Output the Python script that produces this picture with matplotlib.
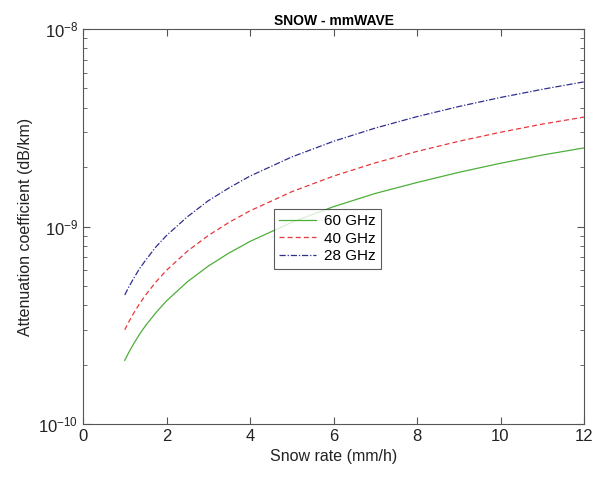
import numpy as np
import matplotlib.pyplot as plt
from matplotlib.ticker import LogLocator, FixedLocator, NullFormatter

plt.rcParams['font.family'] = ['Liberation Sans', 'DejaVu Sans']

# snow rate (mm/h) and attenuation coefficient (dB/km)
rate = np.array([1, 1.1, 1.2, 1.35, 1.5, 1.75, 2, 2.5, 3, 3.5, 4, 5, 6, 7, 8, 9, 10, 11, 12])
att_60 = np.array([0.21, 0.231, 0.252, 0.284, 0.315, 0.367, 0.42, 0.525, 0.63, 0.735, 0.84,
                   1.05, 1.26, 1.47, 1.67, 1.88, 2.09, 2.3, 2.5]) * 1e-9
att_40 = np.array([0.30, 0.33, 0.36, 0.405, 0.45, 0.525, 0.60, 0.75, 0.90, 1.05, 1.20,
                   1.50, 1.80, 2.10, 2.40, 2.70, 3.00, 3.30, 3.58]) * 1e-9
att_28 = np.array([0.45, 0.495, 0.54, 0.61, 0.675, 0.79, 0.90, 1.12, 1.35, 1.57, 1.80,
                   2.25, 2.70, 3.15, 3.60, 4.05, 4.50, 4.95, 5.40]) * 1e-9

fig = plt.figure(figsize=(6.1, 4.79), dpi=100)
ax = fig.add_axes([83/610, 55/479, 501/610, 395/479])

ax.plot(rate, att_60, color='#4daf3a', lw=0.9, label='60 GHz')
ax.plot(rate, att_40, color='#e8373a', lw=0.9, ls=(0, (4, 2.5)), label='40 GHz')
ax.plot(rate, att_28, color='#2f2f90', lw=0.9, ls=(0, (5, 1.5, 1, 1.5)), label='28 GHz')

ax.set_yscale('log')
ax.set_xlim(0, 12)
ax.set_ylim(1e-10, 1e-8)
ax.xaxis.set_major_locator(FixedLocator([0, 2, 4, 6, 8, 10, 12]))
ax.yaxis.set_major_locator(LogLocator(base=10, numticks=5))
ax.yaxis.set_minor_locator(LogLocator(base=10, subs=np.arange(2, 10), numticks=20))
ax.yaxis.set_minor_formatter(NullFormatter())

for s in ax.spines.values():
    s.set_color('#555555')
    s.set_linewidth(0.8)
ax.tick_params(which='both', direction='in', top=True, right=True, colors='#555555', labelcolor='#222222')
ax.tick_params(which='major', length=5, labelsize=12)
ax.tick_params(which='minor', length=3)

ax.set_xlabel('Snow rate (mm/h)', fontsize=11.5, color='#222222')
ax.set_ylabel('Attenuation coefficient (dB/km)', fontsize=11.5, color='#222222')
ax.set_title('SNOW - mmWAVE', fontsize=10, fontweight='bold', pad=3)

leg = ax.legend(loc='upper left', bbox_to_anchor=(0.381, 0.544), borderaxespad=0, fontsize=11,
                frameon=True, fancybox=False, edgecolor='#333333',
                handlelength=2.4, borderpad=0.35, labelspacing=0.22, handletextpad=0.5)
leg.get_frame().set_linewidth(0.8)

fig.savefig('out.png', dpi=100)
